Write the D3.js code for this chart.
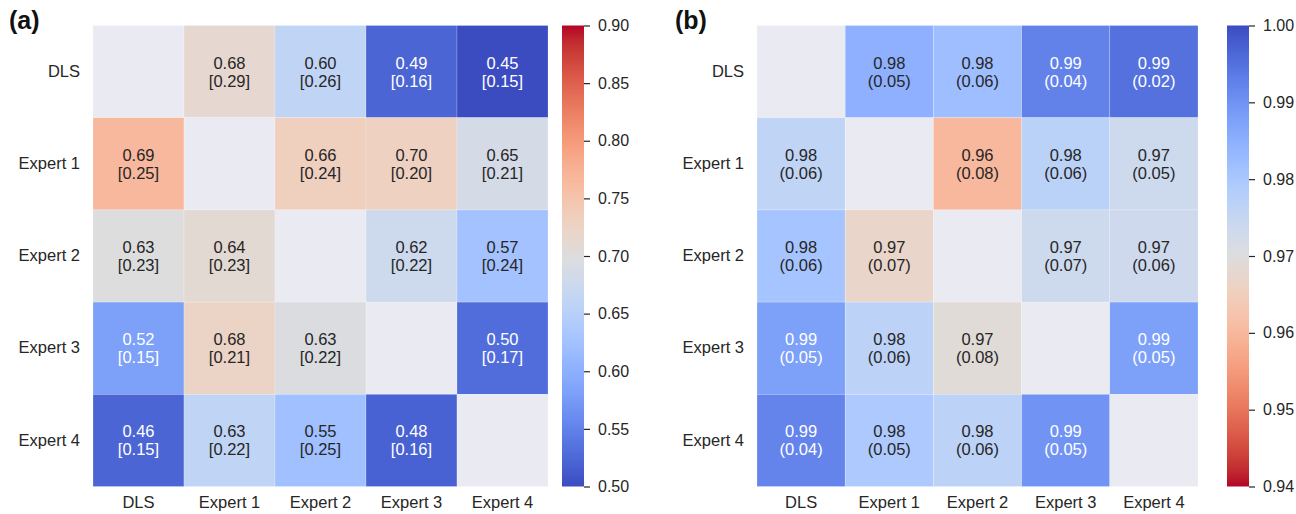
<!DOCTYPE html>
<html>
<head>
<meta charset="utf-8">
<script src="https://cdn.jsdelivr.net/npm/d3@7"></script>
<style>
  html, body { margin: 0; padding: 0; background: #ffffff; }
  svg { display: block; font-family: "Liberation Sans", Arial, sans-serif; }
</style>
</head>
<body>
<svg id="chart" width="1296" height="514"></svg>
<script>
// Raters compared in both agreement matrices (rows and columns)
const raters = ["DLS", "Expert 1", "Expert 2", "Expert 3", "Expert 4"];

// Panel (a): mean [standard deviation] shown in each cell
const meanA = [
  [null, 0.68, 0.60, 0.49, 0.45],
  [0.69, null, 0.66, 0.70, 0.65],
  [0.63, 0.64, null, 0.62, 0.57],
  [0.52, 0.68, 0.63, null, 0.50],
  [0.46, 0.63, 0.55, 0.48, null]
];
const sdA = [
  [null, 0.29, 0.26, 0.16, 0.15],
  [0.25, null, 0.24, 0.20, 0.21],
  [0.23, 0.23, null, 0.22, 0.24],
  [0.15, 0.21, 0.22, null, 0.17],
  [0.15, 0.22, 0.25, 0.16, null]
];
// Panel (a): score that sets each cell's colour on the 0.50–0.90 scale
const colourScoreA = [
  [null, 0.714, 0.660, 0.522, 0.500],
  [0.766, null, 0.732, 0.729, 0.688],
  [0.700, 0.710, null, 0.676, 0.625],
  [0.582, 0.724, 0.696, null, 0.530],
  [0.522, 0.660, 0.622, 0.520, null]
];
const colourbarTicksA = [0.50, 0.55, 0.60, 0.65, 0.70, 0.75, 0.80, 0.85, 0.90];

// Panel (b): value (standard deviation) in each cell; colour follows the value
const valueB = [
  [null, 0.9849, 0.9820, 0.9925, 0.9949],
  [0.9760, null, 0.9601, 0.9772, 0.9736],
  [0.9808, 0.9670, null, 0.9736, 0.9734],
  [0.9877, 0.9766, 0.9691, null, 0.9877],
  [0.9922, 0.9793, 0.9766, 0.9898, null]
];
const sdB = [
  [null, 0.05, 0.06, 0.04, 0.02],
  [0.06, null, 0.08, 0.06, 0.05],
  [0.06, 0.07, null, 0.07, 0.06],
  [0.05, 0.06, 0.08, null, 0.05],
  [0.04, 0.05, 0.06, 0.05, null]
];
const colourbarTicksB = [0.94, 0.95, 0.96, 0.97, 0.98, 0.99, 1.00];

// Diverging "coolwarm" colour map (Moreland), 33 control points
const coolwarmStops = [
  [59,76,192],[68,90,204],[77,104,215],[87,117,225],[98,130,234],[108,142,241],
  [119,154,247],[130,165,251],[141,176,254],[152,185,255],[163,194,255],[174,201,253],
  [184,208,249],[194,213,244],[204,217,238],[213,219,230],[221,221,221],[229,216,209],
  [236,211,197],[241,204,185],[245,196,173],[247,187,160],[247,177,148],[247,166,135],
  [244,154,123],[241,141,111],[236,127,99],[229,112,88],[222,96,77],[213,80,66],
  [203,62,56],[192,40,47],[180,4,38]
];
const coolwarm = d3.scaleLinear()
  .domain(coolwarmStops.map((_, i) => i / (coolwarmStops.length - 1)))
  .range(coolwarmStops.map(c => d3.rgb(c[0], c[1], c[2])))
  .interpolate(d3.interpolateRgb)
  .clamp(true);

const missingFill = "#eaeaf2";
const darkText = "#262626";
const fontStack = "'Liberation Sans', Arial, sans-serif";

// Relative luminance, used to pick dark or white annotation text
function luminance(col) {
  const c = d3.rgb(col);
  const lin = v => { v /= 255; return v <= 0.03928 ? v / 12.92 : Math.pow((v + 0.055) / 1.055, 2.4); };
  return 0.2126 * lin(c.r) + 0.7152 * lin(c.g) + 0.0722 * lin(c.b);
}

const svg = d3.select("#chart");
const f2 = d3.format(".2f");

function drawPanel(cfg) {
  const g = svg.append("g");
  const x = d3.scaleBand().domain(raters).range([cfg.left, cfg.right]);
  const y = d3.scaleBand().domain(raters).range([cfg.top, cfg.bottom]);
  const t = d3.scaleLinear().domain(cfg.domain).range(cfg.reversed ? [1, 0] : [0, 1]).clamp(true);
  const fill = v => coolwarm(t(v));

  const cells = [];
  raters.forEach((r, i) => raters.forEach((c, j) => {
    cells.push({ row: r, col: c, shade: cfg.shade[i][j], main: cfg.main[i][j], spread: cfg.spread[i][j] });
  }));

  g.selectAll("rect.cell").data(cells).join("rect")
    .attr("class", "cell")
    .attr("x", d => x(d.col))
    .attr("y", d => y(d.row))
    .attr("width", x.bandwidth())
    .attr("height", y.bandwidth())
    .attr("fill", d => d.shade == null ? missingFill : fill(d.shade))
    .attr("stroke", "#ffffff")
    .attr("stroke-opacity", 0.35)
    .attr("stroke-width", 0.6);

  const labelled = cells.filter(d => d.main != null);
  const txt = g.selectAll("text.ann").data(labelled).join("text")
    .attr("class", "ann")
    .attr("text-anchor", "middle")
    .attr("font-size", 16.5)
    .attr("fill", d => luminance(fill(d.shade)) > 0.408 ? darkText : "#ffffff");
  txt.append("tspan")
    .attr("x", d => x(d.col) + x.bandwidth() / 2)
    .attr("y", d => y(d.row) + y.bandwidth() / 2 - 3)
    .text(d => f2(d.main));
  txt.append("tspan")
    .attr("x", d => x(d.col) + x.bandwidth() / 2)
    .attr("y", d => y(d.row) + y.bandwidth() / 2 + 15)
    .text(d => cfg.open + f2(d.spread) + cfg.close);

  // Row labels
  const ya = g.append("g").attr("transform", `translate(${cfg.left},0)`)
    .call(d3.axisLeft(y).tickSize(0).tickPadding(13));
  ya.select(".domain").remove();
  ya.selectAll("text").attr("font-size", 16.5).attr("fill", darkText)
    .style("font-family", fontStack);

  // Column labels
  const xa = g.append("g").attr("transform", `translate(0,${cfg.bottom})`)
    .call(d3.axisBottom(x).tickSize(0).tickPadding(10));
  xa.select(".domain").remove();
  xa.selectAll("text").attr("font-size", 16.5).attr("fill", darkText)
    .style("font-family", fontStack);

  // Colour bar
  const gradId = "grad-" + cfg.id;
  const grad = svg.append("defs").append("linearGradient")
    .attr("id", gradId).attr("x1", 0).attr("y1", 1).attr("x2", 0).attr("y2", 0);
  const n = 64;
  d3.range(n + 1).forEach(k => {
    const v = cfg.domain[0] + (cfg.domain[1] - cfg.domain[0]) * k / n;
    grad.append("stop").attr("offset", k / n).attr("stop-color", fill(v));
  });
  g.append("rect")
    .attr("x", cfg.cbX).attr("y", cfg.top)
    .attr("width", cfg.cbW).attr("height", cfg.bottom - cfg.top)
    .attr("fill", `url(#${gradId})`);
  const cy = d3.scaleLinear().domain(cfg.domain).range([cfg.bottom, cfg.top]);
  const ca = g.append("g").attr("transform", `translate(${cfg.cbX + cfg.cbW},0)`)
    .call(d3.axisRight(cy).tickValues(cfg.ticks).tickFormat(f2).tickSize(6).tickPadding(8));
  ca.select(".domain").remove();
  ca.selectAll("line").attr("stroke", darkText).attr("stroke-width", 1.2);
  ca.selectAll("text").attr("font-size", 16).attr("fill", darkText)
    .style("font-family", fontStack);

  // Panel letter
  g.append("text")
    .attr("x", cfg.titleX).attr("y", 29)
    .attr("font-size", 25).attr("font-weight", "bold").attr("fill", "#111111")
    .text(cfg.title);
}

drawPanel({
  id: "a", title: "(a)", titleX: 9,
  left: 93, right: 548, top: 25.5, bottom: 486.5,
  cbX: 562, cbW: 22,
  domain: [0.50, 0.90], reversed: false,
  shade: colourScoreA, main: meanA, spread: sdA, open: "[", close: "]",
  ticks: colourbarTicksA
});

drawPanel({
  id: "b", title: "(b)", titleX: 675,
  left: 757, right: 1198, top: 25.5, bottom: 486.5,
  cbX: 1227, cbW: 22,
  domain: [0.94, 1.00], reversed: true,
  shade: valueB, main: valueB, spread: sdB, open: "(", close: ")",
  ticks: colourbarTicksB
});
</script>
</body>
</html>
